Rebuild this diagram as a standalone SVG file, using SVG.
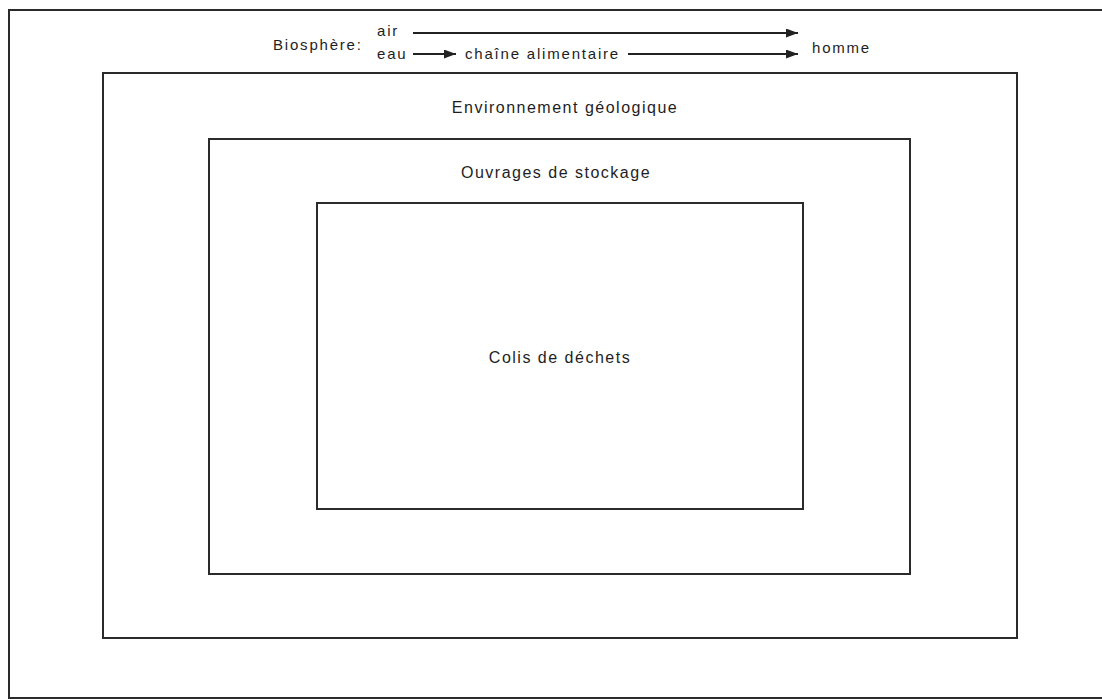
<svg xmlns="http://www.w3.org/2000/svg" width="1102" height="699" viewBox="0 0 1102 699">
<defs>
<style>
.box{fill:none;stroke:#2b2b2b;stroke-width:2}
.lbl{font-family:"Liberation Sans",Arial,sans-serif;font-size:16px;fill:#1e1e1e;letter-spacing:1.5px}
.top{font-family:"Liberation Sans",Arial,sans-serif;font-size:15px;fill:#1e1e1e;letter-spacing:1.8px}
.conn{stroke:#222;stroke-width:2;fill:none}
</style>
<marker id="ah" viewBox="0 0 12 9" refX="12" refY="4.5" markerWidth="12" markerHeight="9" markerUnits="userSpaceOnUse" orient="auto">
<path d="M0,0 L12,4.5 L0,9 Z" fill="#222"/>
</marker>
</defs>
<rect width="1102" height="699" fill="#fff"/>
<g id="biosphere">
<path class="box" d="M1104,10 H9 V698 H1104"/>
<text class="top" x="273" y="50">Biosphère:</text>
</g>
<g id="air"><text class="top" x="377" y="36">air</text></g>
<g id="eau"><text class="top" x="377" y="59">eau</text></g>
<g id="chaine"><text class="top" x="465" y="59">chaîne alimentaire</text></g>
<g id="homme"><text class="top" x="812" y="53">homme</text></g>
<g id="environnement">
<rect class="box" x="103" y="73" width="914" height="565"/>
<text class="lbl" x="565" y="113" text-anchor="middle">Environnement géologique</text>
</g>
<g id="ouvrages">
<rect class="box" x="209" y="139" width="701" height="435"/>
<text class="lbl" x="556" y="178" text-anchor="middle">Ouvrages de stockage</text>
</g>
<g id="colis">
<rect class="box" x="317" y="203" width="486" height="306"/>
<text class="lbl" x="560" y="363" text-anchor="middle">Colis de déchets</text>
</g>
<g id="connectors">
<line class="conn" x1="413" y1="33" x2="798" y2="33" marker-end="url(#ah)"/>
<line class="conn" x1="413" y1="54" x2="456" y2="54" marker-end="url(#ah)"/>
<line class="conn" x1="628" y1="54" x2="798" y2="54" marker-end="url(#ah)"/>
</g>
</svg>
